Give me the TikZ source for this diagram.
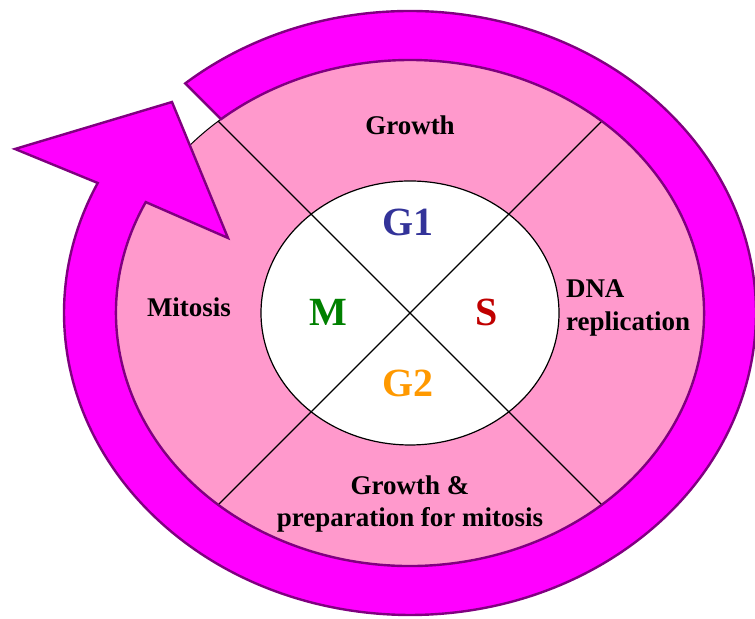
\documentclass[tikz,border=0pt]{standalone}
\usepackage{fontspec}
\setmainfont{Liberation Serif}
\definecolor{rosa}{HTML}{FF99CC}
\definecolor{fucsia}{HTML}{FF00FF}
\definecolor{morado}{HTML}{800080}
\definecolor{azulG}{HTML}{333399}
\definecolor{rojoS}{HTML}{C00000}
\definecolor{verdeM}{HTML}{008000}
\definecolor{naranjaG}{HTML}{FF9900}
\tikzset{
  fase/.style={font=\fontsize{13.5}{16.3}\selectfont\bfseries, align=center},
  letra/.style={font=\fontsize{20}{22}\selectfont\bfseries},
}
\begin{document}
\begin{tikzpicture}[x=0.5pt,y=0.5pt]
    \useasboundingbox (0,0) rectangle (755,619);
    \coordinate (C) at (410,306);
    %CELULA:
     \begin{scope}
     %anillo rosa y nucleo blanco------------------
     \filldraw[fill=rosa,draw=black,line width=0.5pt] (C) ellipse [x radius=294, y radius=253];
     \filldraw[fill=white,draw=black,line width=0.6pt] (C) ellipse [x radius=149, y radius=132];
     \clip (C) ellipse [x radius=294, y radius=253];
     \draw[line width=0.6pt] (C) -- ++(135:400) (C) -- ++(45:400) (C) -- ++(-45:400) (C) -- ++(-135:400);
     %----------------------------------
     \end{scope}
    %FLECHA:
     \begin{scope}
     %puntos del ciclo ----------------
     \path (C) ++(130.5:346 and 302) coordinate (colaExt);
     \path (C) ++(-206:294 and 253) coordinate (muescaInt);
     \filldraw[fill=fucsia,draw=morado,line width=1.2pt,line join=miter]
       (colaExt) arc[start angle=130.5, end angle=-205.5, x radius=346, y radius=302]
       -- (15,470) -- (172,517) -- (228,381) -- (muescaInt)
       arc[start angle=-206, end angle=130, x radius=294, y radius=253] -- cycle;
     %----------------------------------
     \end{scope}
    %TEXTOS:
     \node[fase] (crecimiento) at (410,494) {Growth};
     \node[fase] (mitosis) at (189,312) {Mitosis};
     \node[fase, align=left] (replicacion) at (628,311) {DNA\\replication};
     \node[fase] (preparacion) at (410,115) {Growth \&\\preparation for mitosis};
     \node[letra, text=azulG] (g1) at (408,397) {G1};
     \node[letra, text=verdeM] (m) at (328,307) {M};
     \node[letra, text=rojoS] (s) at (487,307) {S};
     \node[letra, text=naranjaG] (g2) at (408,236) {G2};
    \end{tikzpicture}
\end{document}
